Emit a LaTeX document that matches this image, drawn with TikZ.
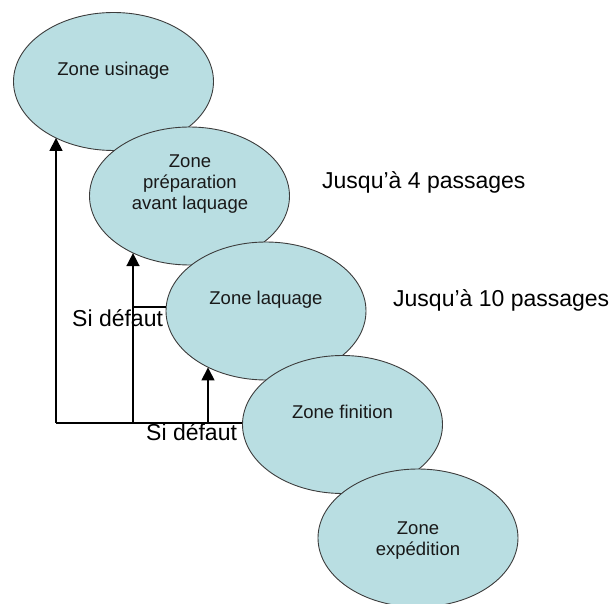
\documentclass[tikz,border=0pt]{standalone}
\usepackage{fontspec}
\setmainfont{Liberation Sans}
\usetikzlibrary{arrows.meta,shapes.geometric}
\definecolor{zonefill}{RGB}{185,222,226}
\definecolor{zoneline}{RGB}{60,60,60}
\tikzset{
  zone/.style={ellipse, draw=zoneline, line width=0.9pt, fill=zonefill,
    minimum width=200pt, minimum height=138pt, inner sep=0pt},
  ztext/.style={font=\fontsize{18.5}{21}\selectfont, align=center, inner sep=0pt, text=black!90},
  lbl/.style={font=\fontsize{23}{26}\selectfont, inner sep=0pt, anchor=base west},
  conn/.style={line width=1.6pt, black},
  arr/.style={conn, -{Triangle[width=13pt,length=13pt]}}
}
\begin{document}
\begin{tikzpicture}[x=1pt,y=-1pt]
\useasboundingbox (0,0) rectangle (614,604);
% ellipses
\node[zone] (u) at (113.5,81.5) {};
\node[zone] (p) at (189.5,196) {};
\node[zone] (l) at (266,311) {};
\node[zone] (f) at (342.5,424.5) {};
\node[zone] (e) at (418,538) {};
% ellipse texts
\node[ztext, anchor=base] (tu) at (113.5,76) {Zone usinage};
\node[ztext] (tp) at (190,184) {Zone\\préparation\\avant laquage};
\node[ztext, anchor=base] (tl) at (266,304.5) {Zone laquage};
\node[ztext, anchor=base] (tf) at (342.5,419) {Zone finition};
\node[ztext] (te) at (418,541) {Zone\\expédition};
% connectors
\coordinate (c0) at (56,423);
\coordinate (c1) at (133,423);
\coordinate (c2) at (208,423);
\coordinate (c3) at (133,307);
\draw[conn] (c0) -- (c0 -| f.west);
\draw[arr] (c0) -- (c0 |- u.224);
\draw[arr] (c1) -- (c1 |- p.225);
\draw[arr] (c2) -- (c2 |- l.224);
\draw[conn, line width=1.2pt] (c3) -- (c3 -| l.west);
% labels
\node[lbl] (s1) at (72,327) {Si défaut};
\node[lbl] (s2) at (146,440) {Si défaut};
\node[lbl] (j4) at (322,189) {Jusqu’à 4 passages};
\node[lbl] (j10) at (393,306.5) {Jusqu’à 10 passages};
\end{tikzpicture}
\end{document}
